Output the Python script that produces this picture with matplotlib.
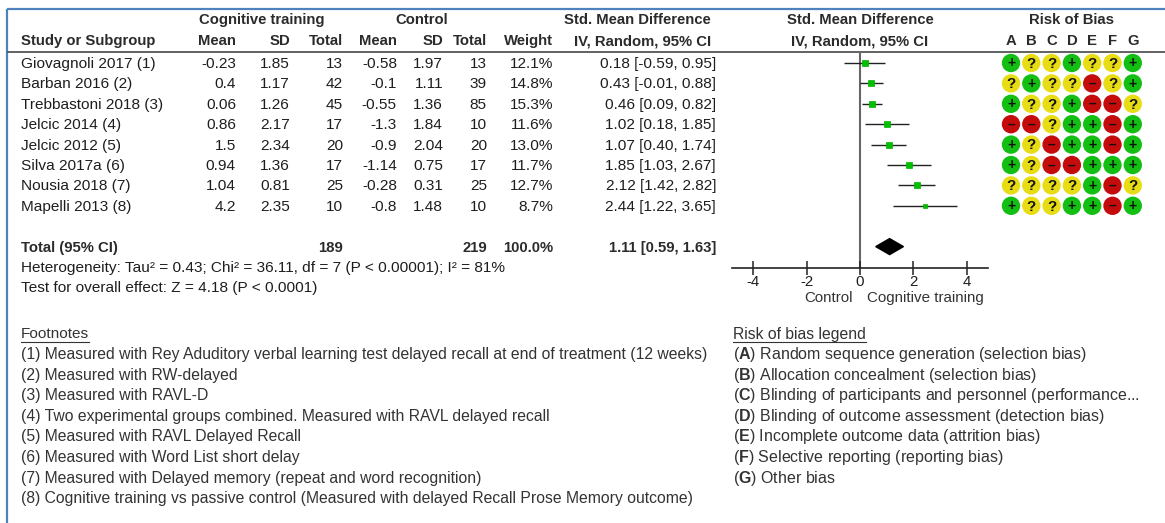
import matplotlib
matplotlib.use("Agg")
import matplotlib.pyplot as plt
from matplotlib.patches import Polygon

plt.rcParams['font.family'] = ['Liberation Sans', 'DejaVu Sans']
plt.rcParams['axes.unicode_minus'] = False
plt.rcParams['mathtext.fontset'] = 'custom'
plt.rcParams['mathtext.rm'] = 'Liberation Sans'
plt.rcParams['mathtext.bf'] = 'Liberation Sans:bold'

# ---- data ----
studies = ["Giovagnoli 2017 (1)", "Barban 2016 (2)", "Trebbastoni 2018 (3)",
           "Jelcic 2014 (4)", "Jelcic 2012 (5)", "Silva 2017a (6)",
           "Nousia 2018 (7)", "Mapelli 2013 (8)"]
ct_mean = [-0.23, 0.4, 0.06, 0.86, 1.5, 0.94, 1.04, 4.2]
ct_sd = [1.85, 1.17, 1.26, 2.17, 2.34, 1.36, 0.81, 2.35]
ct_n = [13, 42, 45, 17, 20, 17, 25, 10]
ctl_mean = [-0.58, -0.1, -0.55, -1.3, -0.9, -1.14, -0.28, -0.8]
ctl_sd = [1.97, 1.11, 1.36, 1.84, 2.04, 0.75, 0.31, 1.48]
ctl_n = [13, 39, 85, 10, 20, 17, 25, 10]
weights = [12.1, 14.8, 15.3, 11.6, 13.0, 11.7, 12.7, 8.7]
total_weight = 100.0
smd = [0.18, 0.43, 0.46, 1.02, 1.07, 1.85, 2.12, 2.44]
ci_lo = [-0.59, -0.01, 0.09, 0.18, 0.40, 1.03, 1.42, 1.22]
ci_hi = [0.95, 0.88, 0.82, 1.85, 1.74, 2.67, 2.82, 3.65]
pooled = (1.11, 0.59, 1.63)
heterogeneity = "Heterogeneity: Tau\u00b2 = 0.43; Chi\u00b2 = 36.11, df = 7 (P < 0.00001); I\u00b2 = 81%"
overall = "Test for overall effect: Z = 4.18 (P < 0.0001)"
axis_ticks = [-4, -2, 0, 2, 4]
favours = ("Control", "Cognitive training")

rob_domains = ["A", "B", "C", "D", "E", "F", "G"]
rob = ["+??+??+",
       "?+??-?+",
       "+??+--?",
       "--?++-+",
       "+?-++-+",
       "+?--+++",
       "????+-?",
       "+??++-+"]
rob_legend = ["Random sequence generation (selection bias)",
              "Allocation concealment (selection bias)",
              "Blinding of participants and personnel (performance...",
              "Blinding of outcome assessment (detection bias)",
              "Incomplete outcome data (attrition bias)",
              "Selective reporting (reporting bias)",
              "Other bias"]
footnotes = [
    "(1) Measured with Rey Aduditory verbal learning test delayed recall at end of treatment (12 weeks)",
    "(2) Measured with RW-delayed",
    "(3) Measured with RAVL-D",
    "(4) Two experimental groups combined. Measured with RAVL delayed recall",
    "(5) Measured with RAVL Delayed Recall",
    "(6) Measured with Word List short delay",
    "(7) Measured with Delayed memory (repeat and word recognition)",
    "(8) Cognitive training vs passive control (Measured with delayed Recall Prose Memory outcome)",
]

# ---- layout (pixels) ----
W, H = 1165, 523
ROW0, DY = 63, 20.4
HEAD1, HEAD2, RULE = 20, 41, 52
AX_Y = 268
FS = 11.1
FSB = 10.7
TXT = '#1e1e1e'
HDR = '#2b2b2b'

fig = plt.figure(figsize=(W / 100, H / 100), dpi=100)
fig.patch.set_facecolor('white')
bg = fig.add_axes([0, 0, 1, 1])
bg.set_xlim(0, W)
bg.set_ylim(H, 0)
bg.axis('off')


def row_y(i):
    return ROW0 + DY * i


def px_axes(x0, x1, y0, y1):
    return fig.add_axes([x0 / W, 1 - y1 / H, (x1 - x0) / W, (y1 - y0) / H])


def t(x, y, s, ha='left', bold=False, size=None, color=None):
    if size is None:
        size = FSB if bold else FS
    return bg.text(x, y, s, ha=ha, va='center', fontsize=size,
                   fontweight='bold' if bold else 'normal',
                   color=color or (HDR if bold else TXT))


# frame and header rule
blue = '#4f81bd'
bg.plot([7, 7], [9, H], color=blue, lw=1.6, solid_capstyle='butt')
bg.plot([7, W], [9, 9], color=blue, lw=1.6, solid_capstyle='butt')
bg.plot([8, W], [RULE, RULE], color='#555555', lw=1.3)

# table columns: right edges
col_right = [236, 290, 343, 397, 443, 487, 553, 716]
t(262, HEAD1, "Cognitive training", ha='center', bold=True)
t(422, HEAD1, "Control", ha='center', bold=True)
t(637, HEAD1, "Std. Mean Difference", ha='center', bold=True)
t(21, HEAD2, "Study or Subgroup", bold=True)
for x, s in zip(col_right, ["Mean", "SD", "Total", "Mean", "SD", "Total",
                            "Weight", "IV, Random, 95% CI"]):
    if s.startswith("IV"):
        t(643, HEAD2, s, ha='center', bold=True)
    else:
        t(x, HEAD2, s, ha='right', bold=True)

for i, name in enumerate(studies):
    y = row_y(i) + 1
    t(21, y, name)
    vals = [f"{ct_mean[i]:g}", f"{ct_sd[i]:g}", f"{ct_n[i]}",
            f"{ctl_mean[i]:g}", f"{ctl_sd[i]:g}", f"{ctl_n[i]}",
            f"{weights[i]:.1f}%",
            f"{smd[i]:.2f} [{ci_lo[i]:.2f}, {ci_hi[i]:.2f}]"]
    for x, s in zip(col_right, vals):
        t(x, y, s, ha='right')

total_row = 9
yt = row_y(total_row) + 1
t(21, yt, "Total (95% CI)", bold=True)
t(col_right[2], yt, f"{sum(ct_n)}", ha='right', bold=True)
t(col_right[5], yt, f"{sum(ctl_n)}", ha='right', bold=True)
t(col_right[6], yt, f"{total_weight:.1f}%", ha='right', bold=True)
t(col_right[7], yt, f"{pooled[0]:.2f} [{pooled[1]:.2f}, {pooled[2]:.2f}]",
  ha='right', bold=True)
t(21, row_y(10) + 1, heterogeneity)
t(21, row_y(11) + 1, overall)

# ---- forest plot ----
t(860, HEAD1, "Std. Mean Difference", ha='center', bold=True)
t(860, HEAD2, "IV, Random, 95% CI", ha='center', bold=True)
fa = px_axes(732, 988, RULE, AX_Y)
fa.set_xlim(-4.8, 4.8)
ylim = ((AX_Y - ROW0) / DY, (RULE - ROW0) / DY)
fa.set_ylim(*ylim)
fa.set_facecolor('none')
for side in ('top', 'left', 'right'):
    fa.spines[side].set_visible(False)
fa.spines['bottom'].set_color('#222222')
fa.spines['bottom'].set_linewidth(1.2)
fa.set_yticks([])
fa.set_xticks(axis_ticks)
fa.set_xticklabels([str(v) for v in axis_ticks])
fa.tick_params(axis='x', direction='inout', length=10, width=1.1,
               colors='#222222', labelsize=10.8, pad=0, labelcolor=TXT)
fa.axvline(0, color='#666666', lw=1.5, zorder=1)
rows = list(range(len(studies)))
fa.hlines(rows, ci_lo, ci_hi, color='#222222', lw=1.0, zorder=2)
for r, e, w in zip(rows, smd, weights):
    side_px = 1.6 * w ** 0.5
    fa.plot(e, r, 's', ms=side_px * 0.72, color='#00c000', mec='#00b000',
            mew=0.5, zorder=3)
est, lo, hi = pooled
h = 8 / DY
fa.add_patch(Polygon([[lo, total_row], [est, total_row - h],
                      [hi, total_row], [est, total_row + h]],
                     closed=True, facecolor='black', edgecolor='black', zorder=3))
t(853, 298, favours[0], ha='right', color='#333333', size=10.8)
t(867, 298, favours[1], ha='left', color='#333333', size=10.9)

# ---- risk of bias grid ----
COL0, DX = 1011, 20.3
ra = px_axes(COL0 - DX / 2, COL0 + DX * 6.5, RULE, AX_Y)
ra.set_xlim(-0.5, 6.5)
ra.set_ylim(*ylim)
ra.axis('off')
t(COL0 + DX * 3, HEAD1, "Risk of Bias", ha='center', bold=True)
for j, d in enumerate(rob_domains):
    ra.text(j, (HEAD2 - ROW0) / DY, d, ha='center', va='center', fontsize=FSB,
            fontweight='bold', color=HDR, clip_on=False)
fill = {'+': '#12bf12', '?': '#e8dc14', '-': '#c40c0c'}
glyph = {'+': '+', '?': '?', '-': '\u2013'}
for i, judg in enumerate(rob):
    for j, c in enumerate(judg):
        ra.scatter(j, i, s=175, color=fill[c], edgecolors='none', zorder=2)
        ra.text(j, i + (0.02 if c != '?' else 0.04), glyph[c], ha='center',
                va='center', fontsize=11 if c == '?' else 10,
                fontweight='bold', color='#111111', zorder=3)

# ---- footnotes and legend ----
FN0 = 334
heads = [t(21, FN0, "Footnotes", color='#333333'),
         t(733, FN0, "Risk of bias legend", color='#333333', size=11.3)]
for k, s in enumerate(footnotes):
    t(21, FN0 + 20.6 * (k + 1), s, color='#333333', size=11.3)
for k, (d, s) in enumerate(zip(rob_domains, rob_legend)):
    t(733, FN0 + 20.6 * (k + 1), "($\\mathbf{" + d + "}$) " + s,
      size=11.5, color='#333333')

fig.canvas.draw()
inv = bg.transData.inverted()
for hd in heads:
    bb = hd.get_window_extent()
    (x0, _), (x1, _) = inv.transform([[bb.x0, bb.y0], [bb.x1, bb.y0]])
    bg.plot([x0, x1], [FN0 + 8, FN0 + 8], color='#333333', lw=0.8)

fig.savefig("out.png", dpi=100, facecolor='white')
